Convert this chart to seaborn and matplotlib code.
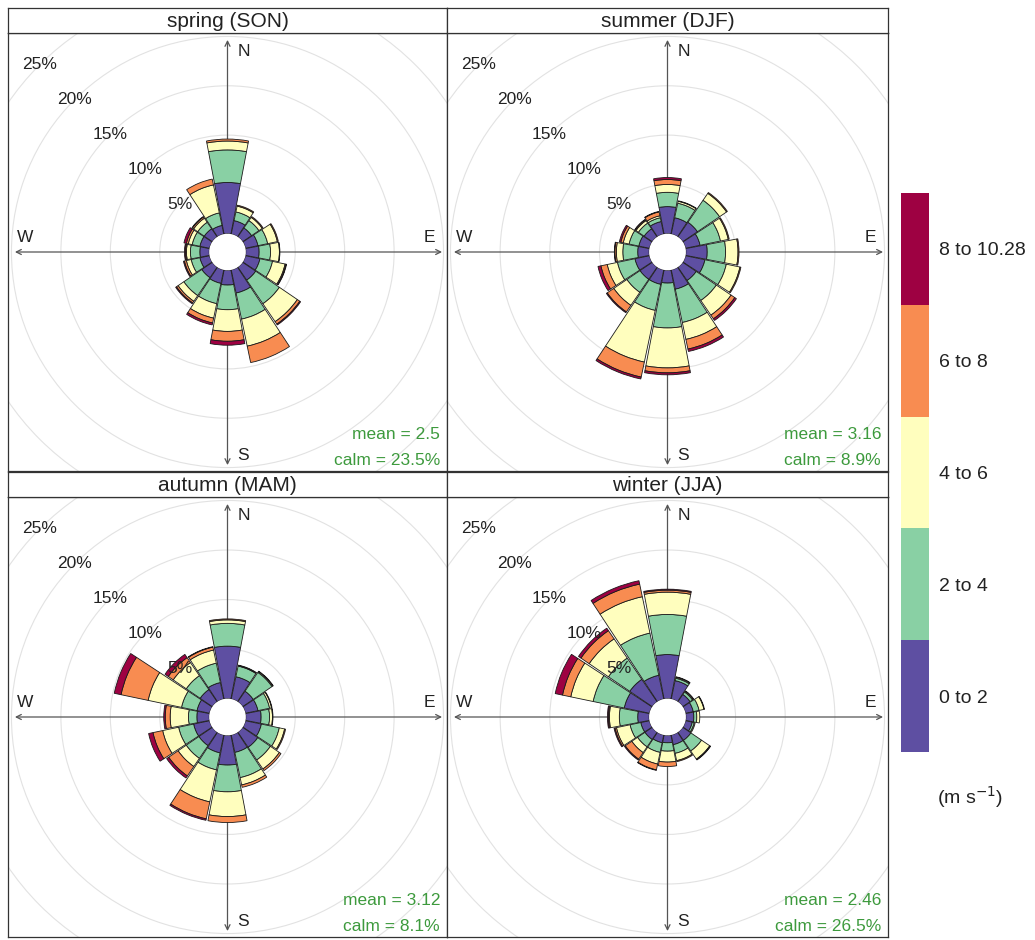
import numpy as np
import matplotlib
matplotlib.use("Agg")
import matplotlib.pyplot as plt
from matplotlib.patches import Wedge, Circle
from matplotlib.colors import ListedColormap
import seaborn as sns

# wind directions (deg from north, clockwise): N, NNE, ..., NNW
directions = [0, 22.5, 45, 67.5, 90, 112.5, 135, 157.5,
              180, 202.5, 225, 247.5, 270, 292.5, 315, 337.5]
speed_bins = ["0 to 2", "2 to 4", "4 to 6", "6 to 8", "8 to 10.28"]
panel_titles = ["spring (SON)", "summer (DJF)", "autumn (MAM)", "winter (JJA)"]
mean_speed = ["2.5", "3.16", "3.12", "2.46"]
calm_pct = ["23.5%", "8.9%", "8.1%", "26.5%"]

# frequency (%) per direction, one column per speed bin
spring = [[5.2, 3.3, 0.9, 0.2, 0.0], [1.4, 0.9, 0.6, 0.1, 0.0],
          [1.1, 0.9, 0.4, 0.1, 0.0], [1.3, 1.0, 1.0, 0.1, 0.0],
          [1.35, 1.15, 0.9, 0.05, 0.0], [1.5, 1.3, 1.3, 0.1, 0.05],
          [1.6, 2.9, 2.2, 0.3, 0.1], [2.4, 2.7, 2.8, 1.7, 0.0],
          [1.5, 2.5, 2.2, 1.0, 0.4], [1.4, 2.1, 1.5, 0.5, 0.2],
          [1.3, 2.2, 0.7, 0.2, 0.1], [1.0, 0.9, 0.5, 0.2, 0.1],
          [0.95, 0.95, 0.4, 0.1, 0.1], [1.0, 0.8, 0.4, 0.2, 0.25],
          [1.0, 0.8, 0.5, 0.15, 0.05], [0.9, 1.3, 2.9, 0.6, 0.0]]
summer = [[2.75, 1.45, 0.8, 0.5, 0.2], [1.7, 1.5, 0.2, 0.05, 0.0],
          [1.8, 2.7, 0.85, 0.1, 0.0], [1.5, 2.1, 0.8, 0.1, 0.0],
          [2.15, 1.85, 1.25, 0.1, 0.0], [2.0, 2.2, 1.4, 0.1, 0.0],
          [1.65, 2.45, 1.8, 0.45, 0.2], [2.0, 3.45, 1.75, 1.0, 0.25],
          [1.3, 4.55, 4.05, 0.5, 0.2], [1.5, 2.7, 5.35, 1.55, 0.2],
          [1.5, 1.6, 1.6, 0.8, 0.1], [1.5, 1.8, 1.05, 0.65, 0.3],
          [1.15, 1.5, 0.65, 0.15, 0.05], [1.1, 1.0, 0.6, 0.25, 0.15],
          [1.0, 0.7, 0.3, 0.1, 0.05], [1.3, 0.4, 0.2, 0.4, 0.05]]
autumn = [[5.3, 2.3, 0.35, 0.1, 0.0], [2.3, 1.1, 0.05, 0.05, 0.0],
          [1.3, 2.3, 0.1, 0.05, 0.0], [1.3, 1.2, 0.2, 0.05, 0.0],
          [1.55, 0.85, 0.3, 0.05, 0.0], [1.65, 1.85, 0.55, 0.1, 0.0],
          [1.85, 1.55, 1.1, 0.2, 0.0], [1.8, 2.6, 0.75, 0.25, 0.0],
          [3.0, 2.7, 2.5, 0.6, 0.0], [1.85, 1.75, 3.3, 1.75, 0.15],
          [1.65, 1.55, 1.0, 1.15, 0.25], [1.65, 1.55, 1.65, 1.0, 0.45],
          [1.25, 0.85, 1.85, 0.5, 0.15], [1.3, 1.6, 3.45, 2.8, 0.7],
          [1.5, 1.7, 1.6, 0.6, 0.4], [1.7, 2.0, 1.35, 0.3, 0.05]]
winter = [[4.45, 4.05, 2.25, 0.2, 0.1], [1.9, 0.25, 0.1, 0.05, 0.0],
          [0.9, 0.3, 0.1, 0.05, 0.0], [0.8, 0.6, 0.5, 0.05, 0.0],
          [0.8, 0.3, 0.3, 0.0, 0.0], [0.7, 0.2, 0.1, 0.0, 0.0],
          [1.0, 1.3, 1.0, 0.05, 0.05], [1.0, 0.9, 0.75, 0.1, 0.0],
          [0.75, 0.85, 1.1, 0.45, 0.0], [0.8, 1.0, 1.2, 0.6, 0.05],
          [0.9, 0.9, 0.7, 0.8, 0.1], [0.9, 1.1, 1.4, 0.15, 0.1],
          [1.15, 1.85, 1.0, 0.1, 0.1], [2.6, 3.2, 2.3, 0.85, 0.75],
          [2.75, 2.6, 2.35, 1.0, 0.3], [2.45, 4.35, 3.75, 1.3, 0.35]]
seasons = [spring, summer, autumn, winter]

sns.set_theme(style="white")
plt.rcParams['font.family'] = ['Liberation Sans', 'DejaVu Sans']

spectral = sns.color_palette("Spectral_r", as_cmap=True)
bin_colors = [spectral(v) for v in np.linspace(0, 1, len(speed_bins))]

OFF = 1.85     # hollow centre radius (in % units)
HALF = 10.7    # half petal width (deg)
LIM = 22.2     # axis half range (% units)

W, H = 1035, 940
fig = plt.figure(figsize=(W / 100, H / 100), dpi=100)
fig.patch.set_facecolor('white')


def fig_rect(x0, y0, x1, y1):
    return [x0 / W, 1 - y1 / H, (x1 - x0) / W, (y1 - y0) / H]


boxes = [(8, 33, 447, 471), (447, 33, 888, 471),
         (8, 497, 447, 937), (447, 497, 888, 937)]

for i, (box, data) in enumerate(zip(boxes, seasons)):
    x0, y0, x1, y1 = box
    ax = fig.add_axes(fig_rect(*box))
    ax.set_xlim(-LIM, LIM)
    ax.set_ylim(-LIM, LIM)
    ax.set_xticks([])
    ax.set_yticks([])
    for s in ax.spines.values():
        s.set_color('#333333')
        s.set_linewidth(0.9)

    # grid rings
    for k in range(1, 8):
        ax.add_patch(Circle((0, 0), OFF + 5 * k, fill=False,
                            ec='#e2e2e2', lw=0.8, zorder=1))

    # compass axes
    arrow = dict(arrowstyle='<->', color='#555555', lw=0.9,
                 shrinkA=0, shrinkB=0, mutation_scale=9)
    ax.annotate('', xy=(21.7, 0), xytext=(-21.5, 0), arrowprops=arrow, zorder=2)
    ax.annotate('', xy=(0, 21.5), xytext=(0, -21.6), arrowprops=arrow, zorder=2)

    # petals
    for d, row in zip(directions, data):
        cum = OFF + np.concatenate([[0], np.cumsum(row)])
        ang = 90 - d
        for j in range(len(row)):
            if row[j] <= 0:
                continue
            ax.add_patch(Wedge((0, 0), cum[j + 1], ang - HALF, ang + HALF,
                               width=cum[j + 1] - cum[j], fc=bin_colors[j],
                               ec='#1a1a1a', lw=0.6, zorder=3))
    ax.add_patch(Circle((0, 0), OFF, fc='white', ec='none', zorder=4))

    # ring labels along the NW diagonal (the 30% one is clipped like the original)
    for k in range(1, 7):
        r = OFF + 5 * k
        ax.text(-r * np.sin(np.pi / 4), r * np.cos(np.pi / 4), f"{5 * k}%",
                ha='center', va='center', fontsize=12.5, color='#222222',
                clip_on=True, zorder=5)

    ax.text(1.0, 20.3, 'N', ha='left', va='center', fontsize=12.5, color='#222222')
    ax.text(1.0, -20.6, 'S', ha='left', va='center', fontsize=12.5, color='#222222')
    ax.text(-20.5, 1.5, 'W', ha='center', va='center', fontsize=12.5, color='#222222')
    ax.text(20.4, 1.5, 'E', ha='center', va='center', fontsize=12.5, color='#222222')

    ax.text(21.5, -18.5, f"mean = {mean_speed[i]}", ha='right', va='center',
            fontsize=12.5, color='#3d9a3d')
    ax.text(21.5, -21.1, f"calm = {calm_pct[i]}", ha='right', va='center',
            fontsize=12.5, color='#3d9a3d')

    # strip title
    st = fig.add_axes(fig_rect(x0, y0 - 25, x1, y0))
    st.set_xticks([])
    st.set_yticks([])
    for s in st.spines.values():
        s.set_color('#333333')
        s.set_linewidth(0.9)
    st.text(0.5, 0.45, panel_titles[i], ha='center', va='center',
            fontsize=15, color='#222222', transform=st.transAxes)

# colour key
leg = fig.add_axes(fig_rect(901, 193, 929, 752))
sns.heatmap(np.arange(len(speed_bins))[::-1].reshape(-1, 1),
            cmap=ListedColormap(bin_colors), cbar=False, ax=leg,
            xticklabels=False, yticklabels=speed_bins[::-1])
leg.yaxis.tick_right()
leg.tick_params(axis='y', length=0, labelsize=14, pad=7)
plt.setp(leg.get_yticklabels(), rotation=0, color='#222222')

fig.text(970 / W, 1 - 797 / H, "(m s$^{-1}$)", ha='center', va='center',
         fontsize=14, color='#222222')

fig.savefig('out.png', dpi=100)
